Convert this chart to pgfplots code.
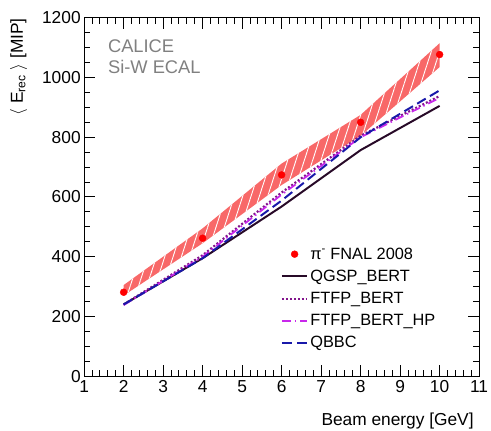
\documentclass[border=0pt]{standalone}
\usepackage{pgfplots}
\pgfplotsset{compat=1.18}
\usepackage{fontspec}
\setmainfont{Liberation Sans}
\usetikzlibrary{patterns.meta}
\definecolor{bandred}{RGB}{248,104,104}
\definecolor{qgsp}{RGB}{40,10,40}
\definecolor{ftfp}{RGB}{130,20,140}
\definecolor{ftfphp}{RGB}{200,40,235}
\definecolor{qbbc}{RGB}{25,25,170}
\begin{document}
\begin{tikzpicture}
\begin{axis}[
  scale only axis,
  width=399pt, height=362pt,
  xmin=1, xmax=11, ymin=0, ymax=1200,
  xtick={1,2,...,11}, ytick={0,200,...,1200},
  minor x tick num=4, minor y tick num=3,
  tick align=inside, tick pos=both,
  major tick length=11pt, minor tick length=6pt,
  axis line style={line width=1.1pt},
  every tick/.style={black, line width=1pt},
  /pgf/number format/assume math mode=true,
  /pgf/number format/set thousands separator={},
  tick label style={font=\fontsize{17.5}{20}\selectfont},
  xticklabel style={yshift=-1pt},
  xlabel={Beam energy [GeV]},
  ylabel={$\langle$ E\textsubscript{rec} $\rangle$ [MIP]},
  label style={font=\fontsize{17.5}{20}\selectfont},
  xlabel style={at={([xshift=-2pt,yshift=-34pt]rel axis cs:1,0)}, anchor=north east},
  ylabel style={at={([xshift=-54pt,yshift=3pt]rel axis cs:0,1)}, anchor=south east},
  legend style={at={(rel axis cs:0.49,0.37)}, anchor=north west, draw=none, fill=none,
    font=\fontsize{16.5}{19}\selectfont, row sep=5.5pt, cells={anchor=west}},
  legend image code/.code={\draw[mark repeat=2,mark phase=2,#1] plot coordinates {(0cm,0cm) (0.45cm,0cm) (0.9cm,0cm)};},
]
% data band (systematic uncertainty)
\addplot[forget plot, draw=none, fill=bandred,
  postaction={pattern={Lines[angle=72, distance=8pt, line width=0.9pt]}, pattern color=white}]
  coordinates {(2,270) (4,445) (6,640) (8,805) (10,1035)
               (10,1115) (8,875) (6,712) (4,495) (2,305)} -- cycle;
\addplot[only marks, mark=*, mark size=3.5pt, color=red] coordinates {
  (2,281) (4,462) (6,674) (8,850) (10,1077)};
\addlegendentry{π\textsuperscript{-} FNAL 2008}
\addplot[qgsp, line width=2pt] coordinates {
  (2,240) (4,395) (6,568) (8,757) (10,905)};
\addlegendentry{QGSP\_BERT}
\addplot[ftfp, line width=2.2pt, dash pattern=on 2pt off 2pt] coordinates {
  (2,240) (4,405) (6,615) (8,805) (10,938)};
\addlegendentry{FTFP\_BERT}
\addplot[ftfphp, line width=1.8pt, dash pattern=on 9pt off 4pt on 1.5pt off 4pt] coordinates {
  (2,238) (4,400) (6,608) (8,800) (10,932)};
\addlegendentry{FTFP\_BERT\_HP}
\addplot[qbbc, line width=2pt, dash pattern=on 10pt off 5pt] coordinates {
  (2,240) (4,395) (6,588) (8,800) (10,957)};
\addlegendentry{QBBC}
\node[anchor=north west, align=left, text=gray, font=\fontsize{18.5}{21}\selectfont, inner sep=0pt]
  at (rel axis cs:0.06,0.94) {CALICE\\Si-W ECAL};
\end{axis}
\pgfresetboundingbox
\path[use as bounding box] ([xshift=-85pt,yshift=-55pt]current axis.south west) rectangle ([xshift=12pt,yshift=18pt]current axis.north east);
\end{tikzpicture}
\end{document}
